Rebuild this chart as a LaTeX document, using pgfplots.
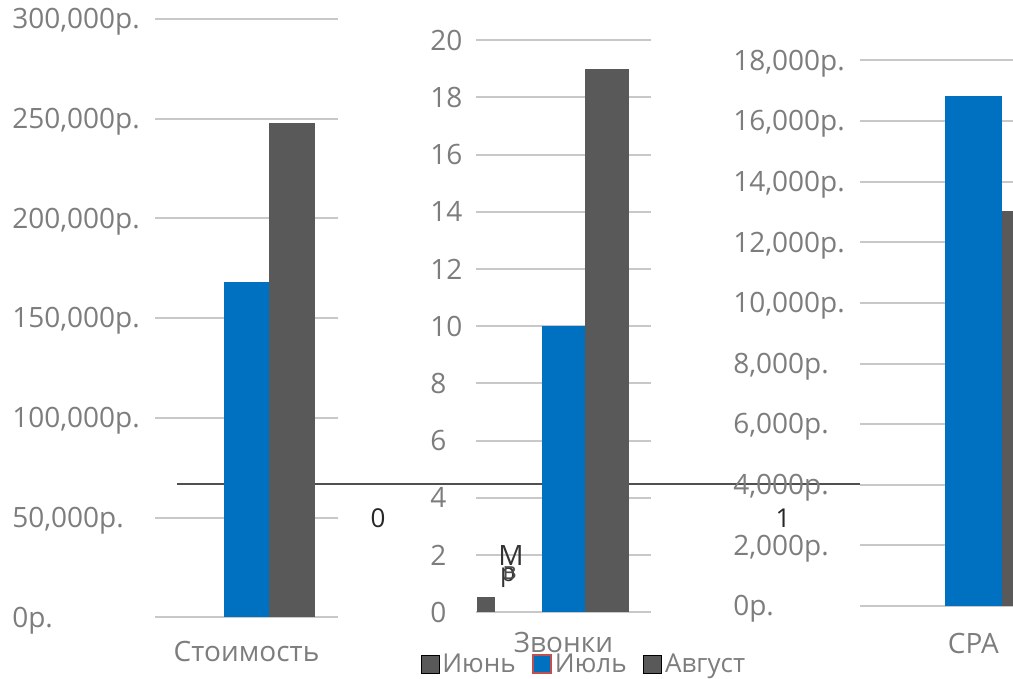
\documentclass[border=0pt]{standalone}
\usepackage{pgfplots}
\pgfplotsset{compat=1.18}
\usepackage{fontspec}
\setmainfont{Open Sans}
\definecolor{cblue}{RGB}{0,112,192}
\definecolor{cgray}{RGB}{89,89,89}
\definecolor{cgrid}{RGB}{200,200,200}
\definecolor{ctext}{RGB}{125,125,125}
\definecolor{cline}{RGB}{80,80,80}
\definecolor{cred}{RGB}{192,80,77}
\newcommand{\lbl}{\fontsize{21}{23}\selectfont}
\newcommand{\leg}{\fontsize{19.5}{21}\selectfont}
\pgfplotsset{
  panel/.style={
    scale only axis, anchor=south west,
    axis line style={draw=none}, tick style={draw=none},
    ymajorgrids, major grid style={cgrid, line width=1.5pt},
    xmin=-1, xmax=1, xtick={0}, ymin=0,
    scaled y ticks=false, clip=false,
    tick label style={font=\lbl, text=ctext},
    yticklabel style={anchor=west, inner sep=0pt},
    xticklabel style={anchor=base, inner sep=0pt},
  },
}
\begin{document}
\begin{tikzpicture}
\path[use as bounding box] (0,0) rectangle (759.75pt,508.5pt);
\clip (0,0) rectangle (759.75pt,508.5pt);
% stray category axis with ticks 0 and 1
\begin{axis}[scale only axis, anchor=south west, at={(132.98pt,145.28pt)},
  width=512pt, height=10pt, xmin=-0.4956, xmax=1.19, ymin=0, ymax=1,
  axis x line=bottom, hide y axis, x axis line style={cline, line width=1.2pt, -},
  tick style={draw=none}, xtick={0,1}, xticklabels={0,1},
  xticklabel style={anchor=base, inner sep=0pt, yshift=-30.6pt, font=\leg, text=black!85}]
\addplot[draw=none] coordinates {(0,0)};
\end{axis}
% Panel 1: Стоимость
\begin{axis}[panel, at={(116.25pt,45.53pt)}, width=137.25pt, height=448.73pt,
  ymax=300000, ytick={0,50000,100000,150000,200000,250000,300000},
  yticklabels={{0р.},{50,000р.},{100,000р.},{150,000р.},{200,000р.},{250,000р.},{300,000р.}},
  yticklabel style={xshift=-107.25pt, yshift=-2.2pt},
  xticklabels={Стоимость}, xticklabel style={yshift=-33.3pt}]
\addplot[ybar, bar width=34pt, bar shift=0pt, fill=cblue, draw=none] coordinates {(0,168000)};
\addplot[ybar, bar width=34pt, bar shift=34.2pt, fill=cgray, draw=none] coordinates {(0,248000)};
\end{axis}
% Panel 2: Звонки
\begin{axis}[panel, at={(357pt,49.28pt)}, width=131.25pt, height=429pt,
  ymax=20, ytick={0,2,4,6,8,10,12,14,16,18,20},
  yticklabels={0,2,4,6,8,10,12,14,16,18,20},
  yticklabel style={xshift=-34.5pt},
  xticklabels={Звонки}, xticklabel style={yshift=-29.8pt},
  legend columns=3,
  legend image code/.code={\path[#1] (0pt,-6.75pt) rectangle (13.5pt,6.75pt);},
  legend style={draw=none, fill=none, at={(0.62,-0.0904)}, anchor=center,
    font=\leg, text=ctext, nodes={inner xsep=2.5pt, inner ysep=0pt},
    /tikz/every even column/.append style={column sep=10pt}}]
\addplot[ybar, bar width=13.7pt, bar shift=-58.3pt, fill=cgray, draw=none, forget plot] coordinates {(0,0.53)};
\addplot[ybar, bar width=32.5pt, bar shift=0pt, fill=cblue, draw=none, forget plot] coordinates {(0,10)};
\addplot[ybar, bar width=32.5pt, bar shift=32.6pt, fill=cgray, draw=none, forget plot] coordinates {(0,19)};
\addlegendimage{fill=cgray}
\addlegendentry{Июнь}
\addlegendimage{fill=cblue, draw=cred, line width=1pt}
\addlegendentry{Июль}
\addlegendimage{fill=cgray}
\addlegendentry{Август}
\end{axis}
% Panel 3: CPA
\begin{axis}[panel, at={(645pt,54pt)}, width=170pt, height=409.13pt,
  ymax=18000, ytick={0,2000,4000,6000,8000,10000,12000,14000,16000,18000},
  yticklabels={{0р.},{2,000р.},{4,000р.},{6,000р.},{8,000р.},{10,000р.},{12,000р.},{14,000р.},{16,000р.},{18,000р.}},
  yticklabel style={xshift=-95.25pt, yshift=-2.2pt},
  xticklabels={CPA}, xticklabel style={yshift=-35.25pt}]
\addplot[ybar, bar width=42.5pt, bar shift=0pt, fill=cblue, draw=none] coordinates {(0,16840)};
\addplot[ybar, bar width=42.5pt, bar shift=42.5pt, fill=cgray, draw=none] coordinates {(0,13050)};
\end{axis}
% garbled data-label remnants
\node[font=\fontsize{21}{22}\selectfont, text=black!80, inner sep=0pt] at (383.25pt,92pt) {М};
\node[font=\fontsize{19}{20}\selectfont, text=black!80, inner sep=0pt] at (381pt,75.5pt) {р};
\node[font=\fontsize{18}{20}\selectfont, text=black!70, inner sep=0pt] at (382pt,78.5pt) {в};
\end{tikzpicture}
\end{document}
